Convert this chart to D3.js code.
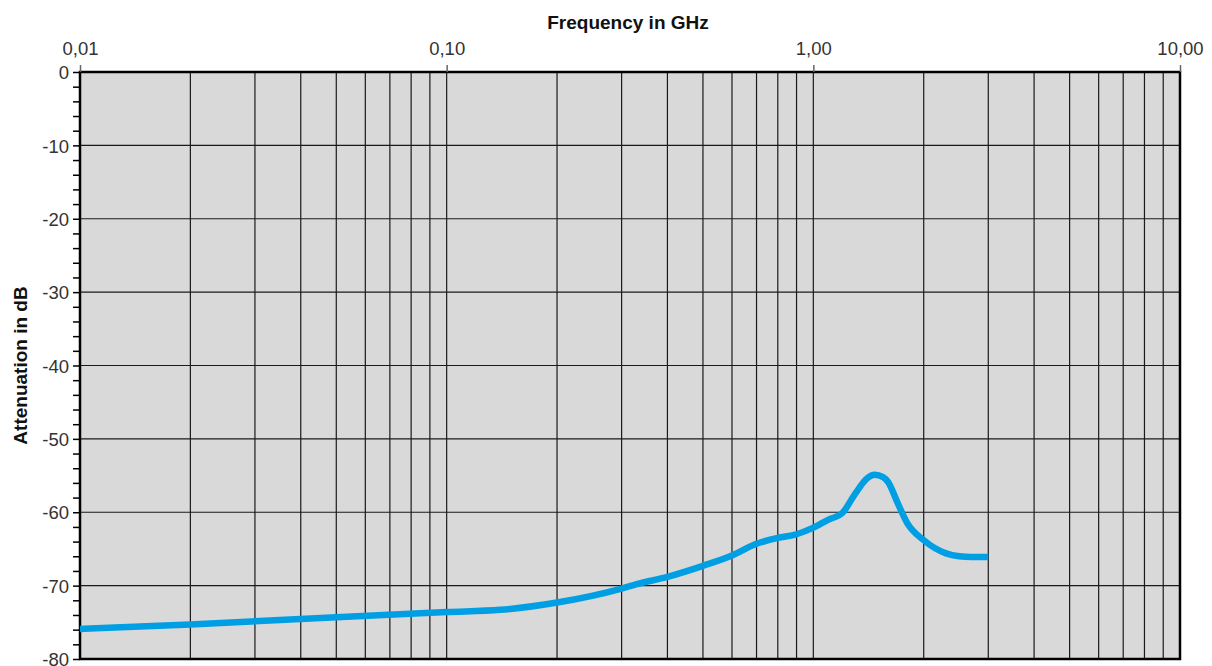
<!DOCTYPE html>
<html><head><meta charset="utf-8">
<script src="https://cdn.jsdelivr.net/npm/d3@7"></script>
<style>body{margin:0;background:#fff;} text{font-family:"Liberation Sans",Arial,sans-serif;}</style>
</head><body>
<svg id="c" width="1212" height="666"></svg>
<script>
const freqGHz = [0.01,0.02,0.05,0.1,0.14,0.2,0.3,0.33,0.4,0.5,0.6,0.7,0.8,0.9,1.0,1.1,1.2,1.3,1.4,1.47,1.55,1.6,1.7,1.8,2.0,2.3,2.5,2.7,3.0];
const attenDB = [-75.9,-75.3,-74.3,-73.6,-73.3,-72.3,-70.4,-69.8,-68.8,-67.3,-65.9,-64.3,-63.5,-63.0,-62.1,-61.0,-60.1,-57.5,-55.4,-54.9,-55.2,-55.9,-58.8,-61.4,-63.8,-65.6,-66.0,-66.1,-66.1];
const xTickLabels = ["0,01","0,10","1,00","10,00"];
const xTickValues = [0.01,0.1,1,10];
const yTickValues = [0,-10,-20,-30,-40,-50,-60,-70,-80];

const svg = d3.select("#c");
const L=80,R=1180,T=72,B=659;
const x = d3.scaleLog().domain([0.01,10]).range([L,R]);
const y = d3.scaleLinear().domain([0,-80]).range([T,B]);

svg.append("rect").attr("x",L).attr("y",T).attr("width",R-L).attr("height",B-T).attr("fill","#d9d9d9");

// vertical grid
const vgrid=[];
for(let d=0.01; d<10; d*=10){ for(let k=1;k<10;k++){ vgrid.push(+(d*k).toPrecision(3)); } }
svg.append("g").selectAll("line").data(vgrid.filter(v=>v>0.01&&v<10)).join("line")
  .attr("x1",d=>x(d)).attr("x2",d=>x(d)).attr("y1",T).attr("y2",B)
  .attr("stroke","#1a1a1a").attr("stroke-width",1.2);
// horizontal grid
svg.append("g").selectAll("line").data(yTickValues.filter(v=>v<0&&v>-80)).join("line")
  .attr("x1",L).attr("x2",R).attr("y1",d=>y(d)).attr("y2",d=>y(d))
  .attr("stroke","#1a1a1a").attr("stroke-width",1.2);

// frame
svg.append("rect").attr("x",L).attr("y",T).attr("width",R-L).attr("height",B-T)
  .attr("fill","none").attr("stroke","#000").attr("stroke-width",2.5);

// y axis
const yAxis = d3.axisLeft(y).tickValues(d3.range(0,-81,-2)).tickSize(7)
  .tickFormat(d=> yTickValues.includes(d) ? String(d) : "");
const ya = svg.append("g").attr("transform",`translate(${L},0)`).call(yAxis);
ya.select(".domain").remove();
ya.selectAll("line").attr("stroke","#000").attr("stroke-width",1.5);
ya.selectAll("text").attr("font-size",18.5).attr("fill","#333").attr("x",-11).attr("dy","0.36em")
  .attr("font-family","'Liberation Sans',Arial,sans-serif");

// x axis (top)
const xAxis = d3.axisTop(x).tickValues(xTickValues).tickSize(7)
  .tickFormat((d,i)=>xTickLabels[i]);
const xa = svg.append("g").attr("transform",`translate(0,${T})`).call(xAxis);
xa.select(".domain").remove();
xa.selectAll("line").attr("stroke","#666").attr("stroke-width",1.5);
xa.selectAll("text").attr("font-size",18.5).attr("fill","#333").attr("y",-17)
  .attr("font-family","'Liberation Sans',Arial,sans-serif");

// titles
svg.append("text").attr("x",628).attr("y",29).attr("text-anchor","middle")
  .attr("font-size",19).attr("font-weight","bold").attr("fill","#111").text("Frequency in GHz");
svg.append("text").attr("transform",`translate(27,${(T+B)/2}) rotate(-90)`).attr("text-anchor","middle")
  .attr("font-size",19).attr("font-weight","bold").attr("fill","#111").text("Attenuation in dB");

// curve
const line = d3.line().x((d,i)=>x(freqGHz[i])).y((d,i)=>y(attenDB[i])).curve(d3.curveMonotoneX);
svg.append("path").datum(attenDB).attr("d",line).attr("fill","none")
  .attr("stroke","#009fe3").attr("stroke-width",6.5);
</script>
</body></html>
